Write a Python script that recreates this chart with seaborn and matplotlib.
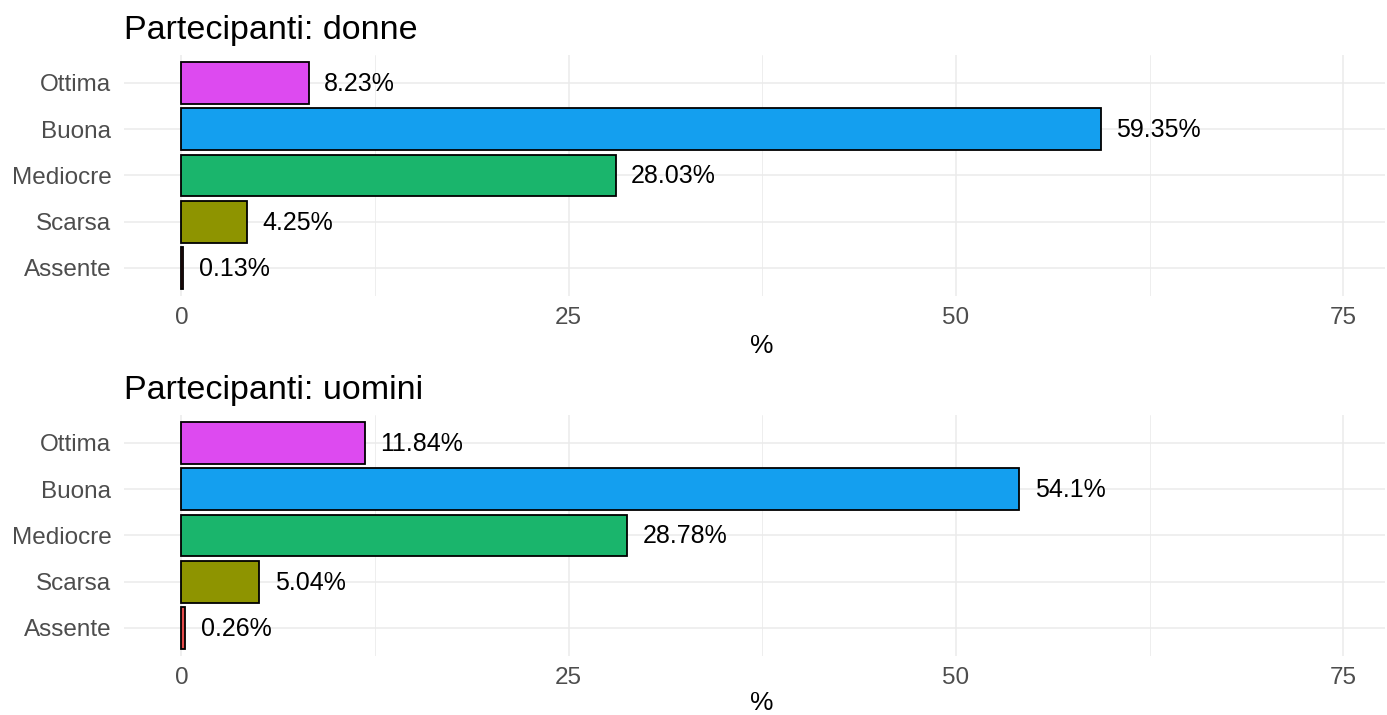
import pandas as pd
import matplotlib.pyplot as plt
import seaborn as sns

# Valutazione della propria salute, per genere
categorie = ["Ottima", "Buona", "Mediocre", "Scarsa", "Assente"]
perc_donne = [8.23, 59.35, 28.03, 4.25, 0.13]
perc_uomini = [11.84, 54.1, 28.78, 5.04, 0.26]
titoli = ["Partecipanti: donne", "Partecipanti: uomini"]
colori = ["#DD4AF0", "#149FEF", "#1AB56C", "#8E9400", "#E34A4A"]

sns.set_theme(style="whitegrid")
plt.rcParams['font.family'] = ['Liberation Sans', 'DejaVu Sans']

fig = plt.figure(figsize=(13.87, 7.15), dpi=100)
ax_top = fig.add_axes([0.0894, 0.5864, 0.9092, 0.3364])
ax_bot = fig.add_axes([0.0894, 0.0829, 0.9092, 0.3364])

pannelli = [(ax_top, perc_donne, titoli[0], -0.16),
            (ax_bot, perc_uomini, titoli[1], -0.145)]

for ax, valori, titolo, ylab in pannelli:
    df = pd.DataFrame({"cat": categorie, "perc": valori})
    sns.barplot(data=df, x="perc", y="cat", hue="cat", order=categorie,
                palette=colori, saturation=1, edgecolor="black", linewidth=1.3,
                width=0.9, legend=False, ax=ax)
    for i, v in enumerate(valori):
        ax.text(v + 1, i + 0.02, f"{v:g}%", va="center", ha="left",
                fontsize=18, color="black")
    ax.set_xlim(-3.7, 77.7)
    ax.set_ylim(4.6, -0.6)
    ax.set_xticks([0, 25, 50, 75])
    ax.set_xticks([12.5, 37.5, 62.5], minor=True)
    ax.grid(True, which="major", color="#EBEBEB", linewidth=1.1)
    ax.grid(True, which="minor", axis="x", color="#EBEBEB", linewidth=0.6)
    ax.set_axisbelow(True)
    for s in ax.spines.values():
        s.set_visible(False)
    ax.tick_params(axis="both", which="both", length=0, labelsize=17.5,
                   labelcolor="#4D4D4D")
    ax.tick_params(axis="x", pad=8)
    ax.tick_params(axis="y", pad=9)
    ax.set_ylabel("")
    ax.set_xlabel("%", fontsize=19, color="black")
    ax.xaxis.set_label_coords(0.506, ylab)
    ax.set_title(titolo, loc="left", fontsize=24.5, color="black", pad=12)
    ax.set_facecolor("white")

fig.savefig("out.png", dpi=100, facecolor="white")
